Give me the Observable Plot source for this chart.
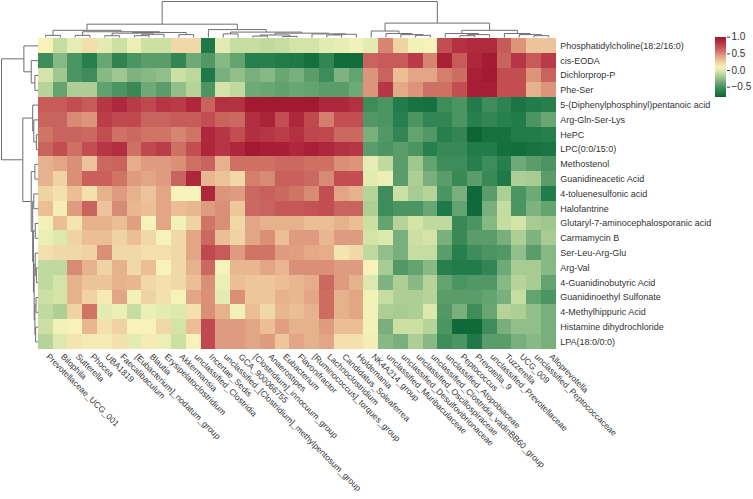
<!DOCTYPE html>
<html><head><meta charset="utf-8">
<script src="https://cdn.jsdelivr.net/npm/d3@7"></script>
<script src="https://cdn.jsdelivr.net/npm/@observablehq/plot@0.6"></script>
<style>
body{margin:0;background:#fff;}
#chart{position:relative;width:753px;height:499px;overflow:hidden;background:#fff;}
#chart svg{position:absolute;left:0;top:0;overflow:visible;background:transparent;}
</style></head><body><div id="chart"></div>
<script>
const rowNames = ["Phosphatidylcholine(18:2/16:0)","cis-EODA","Dichlorprop-P","Phe-Ser","5-(Diphenylphosphinyl)pentanoic acid","Arg-Gln-Ser-Lys","HePC","LPC(0:0/15:0)","Methostenol","Guanidineacetic Acid","4-toluenesulfonic acid","Halofantrine","Glutaryl-7-aminocephalosporanic acid","Carmamycin B","Ser-Leu-Arg-Glu","Arg-Val","4-Guanidinobutyric Acid","Guanidinoethyl Sulfonate","4-Methylhippuric Acid","Histamine dihydrochloride","LPA(18:0/0:0)"];
const colNames = ["Prevotellaceae_UCG_001","Bilophila","Sutterella","Phocea","UBA1819","Faecalibaculum","[Eubacterium]_nodatum_group","Blautia","Erysipelatoclostridium","Akkermansia","unclassified_Clostridia","Incertae_Sedis","unclassified_[Clostridium]_methylpentosum_group","GCA_900066755","[Clostridium]_innocuum_group","Anaerostipes","Eubacterium","Flavonifractor","[Ruminococcus]_torques_group","Lachnoclostridium","Candidatus_Soleaferrea","Holdemania","NK4A214_group","unclassified_Muribaculaceae","unclassified_Desulfovibrionaceae","unclassified_Oscillospiraceae","unclassified_Clostridia_vadinBB60_group","unclassified_Atopobiaceae","Peptococcus","Prevotella_9","unclassified_Prevotellaceae","Tuzzerella","UCG_009","unclassified_Peptococcaceae","Alloprevotella"];
const values = [
[0.1,-0.1,0.02,0.18,0.0,-0.08,0.05,-0.08,-0.08,0.2,0.2,-0.7,0.0,-0.1,-0.1,-0.12,-0.1,-0.05,-0.05,0.0,0.03,0.08,0.0,0.5,0.22,0.08,0.1,0.7,0.82,0.85,0.85,0.65,0.45,0.28,0.28],
[-0.55,-0.3,-0.5,-0.65,-0.4,-0.62,-0.5,-0.45,-0.45,-0.6,-0.38,-0.48,-0.3,-0.42,-0.65,-0.65,-0.68,-0.7,-0.75,-0.6,-0.77,-0.77,0.62,0.65,0.65,0.78,0.5,0.92,0.65,0.88,0.95,0.62,0.8,0.65,0.78],
[-0.05,-0.22,-0.5,-0.55,-0.3,-0.22,-0.33,-0.3,-0.27,-0.08,-0.13,-0.7,-0.35,-0.27,-0.35,-0.3,-0.4,-0.35,-0.45,-0.55,-0.33,-0.42,0.45,0.62,0.3,0.4,0.4,0.52,0.58,0.92,0.97,0.7,0.7,0.45,0.62],
[-0.15,-0.42,-0.18,-0.18,-0.43,-0.5,-0.57,-0.38,-0.45,-0.27,-0.15,-0.5,-0.05,-0.12,-0.38,-0.4,-0.43,-0.4,-0.42,-0.45,-0.45,-0.38,0.45,0.8,0.38,0.45,0.57,0.57,0.7,0.93,0.93,0.7,0.7,0.35,0.45],
[0.65,0.65,0.7,0.65,0.8,0.87,0.78,0.72,0.8,0.78,0.87,0.62,0.82,0.82,0.97,0.97,0.97,0.97,0.97,0.87,0.87,0.82,-0.55,-0.5,-0.68,-0.73,-0.74,-0.55,-0.5,-0.68,-0.55,-0.62,-0.72,-0.68,-0.65],
[0.62,0.62,0.48,0.45,0.77,0.72,0.72,0.62,0.62,0.65,0.65,0.7,0.62,0.6,0.83,0.9,0.7,0.87,0.72,0.52,0.7,0.7,-0.48,-0.5,-0.65,-0.5,-0.6,-0.6,-0.5,-0.65,-0.6,-0.65,-0.68,-0.5,-0.4],
[0.55,0.62,0.62,0.6,0.7,0.57,0.6,0.55,0.55,0.5,0.55,0.87,0.8,0.7,0.83,0.8,0.77,0.82,0.73,0.72,0.6,0.6,-0.35,-0.48,-0.6,-0.42,-0.48,-0.65,-0.6,-0.8,-0.74,-0.74,-0.68,-0.68,-0.65],
[0.62,0.7,0.57,0.7,0.8,0.83,0.57,0.72,0.77,0.57,0.7,0.88,0.8,0.87,0.97,0.93,0.93,0.87,0.92,0.87,0.82,0.8,-0.45,-0.5,-0.45,-0.5,-0.65,-0.57,-0.57,-0.68,-0.68,-0.75,-0.76,-0.73,-0.72],
[0.35,0.4,0.47,0.28,0.6,0.62,0.37,0.43,0.43,0.47,0.57,0.62,0.35,0.57,0.57,0.57,0.6,0.6,0.57,0.57,0.47,0.45,0.02,-0.12,-0.45,-0.22,-0.42,-0.55,-0.55,-0.65,-0.55,-0.65,-0.38,-0.45,-0.5],
[0.35,0.22,0.47,0.63,0.63,0.55,0.43,0.4,0.43,0.62,0.88,0.33,0.28,0.2,0.52,0.48,0.63,0.63,0.6,0.48,0.7,0.7,0.0,0.05,-0.45,-0.18,-0.35,-0.45,-0.57,-0.45,-0.57,-0.7,-0.18,-0.2,-0.45],
[0.22,0.17,0.3,0.17,0.35,0.43,0.35,0.28,0.4,0.1,0.1,0.88,0.45,0.43,0.6,0.63,0.6,0.55,0.48,0.7,0.4,0.35,-0.15,-0.55,-0.08,-0.2,-0.15,-0.5,-0.35,-0.78,-0.45,-0.18,-0.5,-0.38,-0.68],
[0.3,0.12,0.43,0.62,0.28,0.48,0.33,0.3,0.4,0.3,0.33,0.43,0.47,0.27,0.6,0.62,0.66,0.66,0.68,0.7,0.62,0.62,-0.18,-0.55,-0.5,-0.5,-0.4,-0.7,-0.42,-0.78,-0.35,-0.1,-0.5,-0.33,-0.42],
[0.08,0.3,0.15,0.35,0.35,0.3,0.42,0.1,0.4,0.08,0.22,0.55,0.47,0.2,0.4,0.35,0.35,0.35,0.3,0.3,0.35,0.3,-0.08,-0.42,-0.15,-0.05,-0.12,-0.12,-0.57,-0.5,-0.3,-0.1,-0.05,-0.2,-0.22],
[0.05,-0.02,0.22,0.3,0.3,0.22,0.3,0.2,0.1,0.2,0.4,0.6,0.3,0.22,0.4,0.47,0.3,0.43,0.43,0.33,0.43,0.43,-0.05,-0.02,-0.35,-0.08,-0.05,-0.35,-0.57,-0.45,-0.45,-0.35,-0.18,-0.33,-0.2],
[0.17,0.2,0.2,0.22,0.47,0.2,0.2,0.17,0.17,0.2,0.4,0.72,0.65,0.43,0.55,0.55,0.43,0.42,0.38,0.37,0.15,0.2,-0.12,-0.27,-0.35,-0.1,-0.1,-0.45,-0.65,-0.55,-0.5,-0.48,-0.27,-0.45,-0.3],
[-0.12,-0.12,0.48,0.35,0.22,0.35,0.2,0.3,0.1,0.2,0.35,0.6,0.1,0.33,0.33,0.4,0.33,0.47,0.47,0.47,0.43,0.43,0.1,-0.2,-0.48,-0.42,-0.3,-0.65,-0.68,-0.68,-0.6,-0.38,-0.2,-0.2,-0.3],
[-0.12,-0.05,0.35,0.28,0.28,0.35,0.33,0.2,0.17,0.2,0.3,0.47,0.05,0.3,0.27,0.27,0.3,0.33,0.37,0.6,0.43,0.35,-0.02,-0.33,-0.18,-0.3,-0.15,-0.42,-0.5,-0.48,-0.48,-0.3,-0.15,-0.2,-0.42],
[-0.08,-0.05,0.35,0.22,0.13,0.4,0.08,0.22,0.17,0.1,0.4,0.47,0.0,0.47,0.27,0.27,0.35,0.33,0.4,0.58,0.35,0.4,0.08,-0.1,-0.18,-0.18,-0.15,-0.45,-0.45,-0.45,-0.42,-0.35,-0.1,-0.42,-0.5],
[-0.12,-0.18,0.22,0.55,0.0,0.05,-0.1,0.05,0.0,-0.02,0.17,0.47,0.35,0.08,0.3,0.2,0.33,0.3,0.35,0.58,0.35,0.4,0.08,-0.18,-0.2,-0.18,-0.02,-0.48,-0.35,-0.55,-0.4,-0.15,-0.18,-0.27,-0.35],
[-0.08,0.08,0.1,0.33,0.17,0.22,0.1,0.1,0.2,-0.05,0.3,0.72,0.43,0.43,0.4,0.3,0.42,0.35,0.35,0.43,0.3,0.3,0.08,-0.35,-0.08,-0.08,-0.15,-0.5,-0.78,-0.78,-0.55,-0.35,-0.27,-0.27,-0.35],
[-0.15,-0.02,0.15,0.13,0.13,0.17,0.0,0.13,0.05,-0.08,0.1,0.72,0.43,0.43,0.4,0.43,0.27,0.4,0.35,0.4,0.17,0.17,0.12,-0.3,-0.35,-0.18,-0.3,-0.55,-0.5,-0.7,-0.45,-0.45,-0.35,-0.3,-0.35]
];
// column clustering merges: [childA, childB, height]; leaves 0..34, new nodes 35..
const colMerges = [
[0,1,6],[2,3,6],[4,5,5],[6,7,5],[38,8,9],[37,39,12],[9,10,8],[40,41,14],[36,42,16],[35,43,20],
[12,13,10],[14,15,4],[16,17,3],[46,47,7],[19,20,7],[49,21,9],[18,50,10],[48,51,12],[45,52,15],[11,53,22],[44,54,37],
[25,26,6],[24,56,8],[23,57,11],[22,58,18],
[28,29,5],[60,30,8],[27,61,11],[33,34,5],[32,63,8],[31,64,11],[62,65,20],
[59,66,40],[55,67,100]
];
// row clustering merges: leaves 0..20, new nodes 21..
const rowMerges = [
[2,3,9],[1,21,19],[0,22,39],
[6,7,5],[5,24,12],[4,25,15],
[8,9,9],[10,11,12],[12,13,8],[15,16,5],[14,30,8],[17,18,6],[19,20,7],[32,33,9],[31,34,11],[29,35,13],[28,36,15],[27,37,19],
[26,38,42],[23,39,100]
];
const colorStops = [-0.8,-0.7,-0.55,-0.4,-0.25,-0.1,0.0,0.1,0.25,0.4,0.55,0.7,0.85,1.0];
const colorRange = ["#0d6535","#1e7848","#3d8c59","#68a674","#97c28c","#c6dda1","#e2ebb1","#f6f2b9","#efcb9f","#e2a585","#d07566","#c24e52","#b02a3e","#a0152c"];
const legendTicks = [1.0,0.5,0.0,-0.5];

function dendroSegments(merges, n) {
  const pos = d3.range(n).map(i => i + 0.5), h = d3.range(n).map(() => 0);
  const segs = [];
  merges.forEach(([a, b, ht], k) => {
    const id = n + k;
    pos[id] = (pos[a] + pos[b]) / 2; h[id] = ht;
    segs.push({p1: pos[a], h1: h[a], p2: pos[a], h2: ht});
    segs.push({p1: pos[b], h1: h[b], p2: pos[b], h2: ht});
    segs.push({p1: pos[a], h1: ht, p2: pos[b], h2: ht});
  });
  return segs;
}

const font = "'Liberation Sans', Arial, sans-serif";
const W = 753, H = 499;
const mL = 37.7, mR = W - 555.7, mT = 38, mB = H - 348.8;
const colorScale = {type: "linear", domain: colorStops, range: colorRange, interpolate: "rgb"};

const cells = [];
values.forEach((row, r) => row.forEach((v, c) => cells.push({r, c, v})));

const heat = Plot.plot({
  width: W, height: H, marginLeft: mL, marginRight: mR, marginTop: mT, marginBottom: mB,
  style: {fontFamily: font, background: "transparent"},
  x: {domain: [0, colNames.length], axis: null},
  y: {domain: [0, rowNames.length], reverse: true, axis: null},
  color: colorScale,
  marks: [
    Plot.rect(cells, {x1: d => d.c, x2: d => d.c + 1, y1: d => d.r, y2: d => d.r + 1, fill: "v", shapeRendering: "crispEdges"}),
    Plot.text(rowNames, {x: colNames.length, y: (d, i) => i + 0.5, text: d => d, textAnchor: "start", dx: 4, fontSize: 9, fill: "#333"}),
    Plot.text(colNames, {x: (d, i) => i + 0.5, y: rowNames.length, text: d => d, rotate: 45, textAnchor: "start", dx: 2, dy: 6, fontSize: 8.5, fill: "#333"})
  ]
});

const topTree = Plot.plot({
  width: W, height: 38, marginLeft: mL, marginRight: mR, marginTop: 1, marginBottom: 1,
  style: {background: "transparent"},
  x: {domain: [0, colNames.length], axis: null},
  y: {domain: [0, 100], axis: null},
  marks: [Plot.link(dendroSegments(colMerges, colNames.length), {x1: "p1", y1: "h1", x2: "p2", y2: "h2", stroke: "#6e6e6e", strokeWidth: 1})]
});

const leftTree = Plot.plot({
  width: 38, height: H, marginLeft: 1, marginRight: 38 - mL, marginTop: mT, marginBottom: mB,
  style: {background: "transparent"},
  x: {domain: [100, 0], axis: null},
  y: {domain: [0, rowNames.length], reverse: true, axis: null},
  marks: [Plot.link(dendroSegments(rowMerges, rowNames.length), {x1: "h1", y1: "p1", x2: "h2", y2: "p2", stroke: "#6e6e6e", strokeWidth: 1})]
});

const grad = d3.range(-0.8, 1.0, 0.01).map(v => ({v}));
const legend = Plot.plot({
  width: W, height: H, marginLeft: 715, marginRight: W - 726, marginTop: 36.7, marginBottom: H - 96.7,
  style: {fontFamily: font, background: "transparent"},
  x: {domain: [0, 1], axis: null},
  y: {domain: [-0.8, 1.0], axis: null},
  color: colorScale,
  marks: [
    Plot.rect(grad, {x1: 0, x2: 1, y1: "v", y2: d => Math.min(1.0, d.v + 0.0101), fill: "v", shapeRendering: "crispEdges"}),
    Plot.axisY(legendTicks, {anchor: "right", tickSize: 3, tickPadding: 2, tickFormat: d3.format(".1f"), fontSize: 10, color: "#333", label: null})
  ]
});

const root = document.getElementById("chart");
[heat, topTree, leftTree, legend].forEach(s => root.appendChild(s));
</script></body></html>
